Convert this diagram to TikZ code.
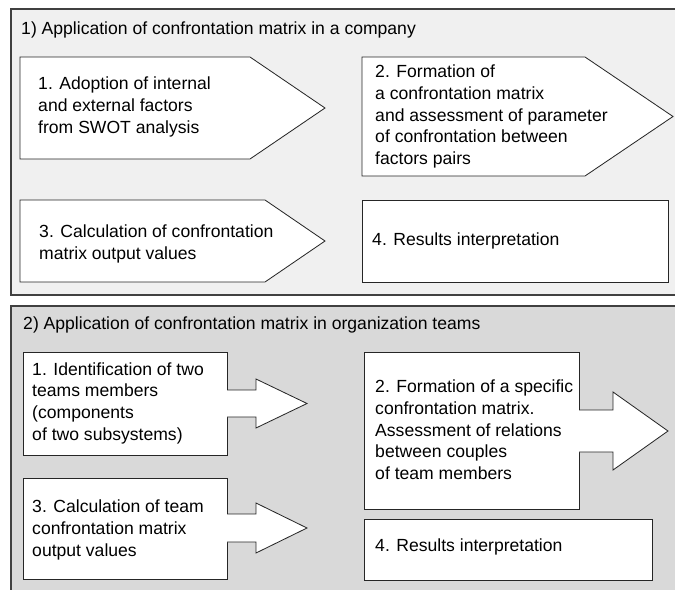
\documentclass[tikz,border=0pt]{standalone}
\usepackage{fontspec}
\setmainfont{Liberation Sans}
\begin{document}
\begin{tikzpicture}[x=0.03cm, y=-0.03cm,
  panel/.style={draw=black!75, line width=1.1pt},
  stepbox/.style={draw=black!85, fill=white, line width=0.7pt},
  txt/.style={anchor=west, align=left, inner sep=0pt, font=\fontsize{15}{18.5}\selectfont}]
  \useasboundingbox (0,0) rectangle (675,589);
  \clip (0,0) rectangle (675,589);
  % panel 1
  \draw[panel, fill=black!6] (11,9) rectangle (690,295);
  \node[txt] (title1) at (21,30) {1) Application of confrontation matrix in a company};
  \draw[stepbox] (20,57) -- (250,57) -- (325,108) -- (250,159) -- (20,159) -- cycle;
  \draw[stepbox] (362,57) -- (585,57) -- (673,116.5) -- (585,176) -- (362,176) -- cycle;
  \draw[stepbox] (20,200) -- (265,200) -- (325,241) -- (265,282) -- (20,282) -- cycle;
  \draw[stepbox] (362,200) rectangle (668,282);
  \node[txt] (a1) at (38,107) {1. Adoption of internal\\and external factors\\from SWOT analysis};
  \node[txt] (a2) at (375,116.5) {2. Formation of\\a confrontation matrix\\and assessment of parameter\\of confrontation between\\factors pairs};
  \node[txt] (a3) at (39,244) {3. Calculation of confrontation\\matrix output values};
  \node[txt] (a4) at (372,241) {4. Results interpretation};
  % panel 2
  \draw[panel, fill=black!15] (11,306) rectangle (690,600);
  \node[txt] (title2) at (23,325) {2) Application of confrontation matrix in organization teams};
  \draw[stepbox] (23,352) rectangle (227,455);
  \draw[stepbox] (227,390) -- (256,390) -- (256,379) -- (307,403.5) -- (256,428) -- (256,417) -- (227,417);
  \draw[stepbox] (23,478) rectangle (227,579);
  \draw[stepbox] (227,514) -- (256,514) -- (256,503) -- (307,528) -- (256,553) -- (256,542) -- (227,542);
  \draw[stepbox] (364,352) rectangle (579,509);
  \draw[stepbox] (579,410) -- (613,410) -- (613,392) -- (668,431) -- (613,470) -- (613,452) -- (579,452);
  \draw[stepbox] (364,519) rectangle (652,580);
  \node[txt] (b1) at (32,403) {1. Identification of two\\teams members\\(components\\of two subsystems)};
  \node[txt] (b2) at (375,430) {2. Formation of a specific\\confrontation matrix.\\Assessment of relations\\between couples\\of team members};
  \node[txt] (b3) at (32,530) {3. Calculation of team\\confrontation matrix\\output values};
  \node[txt] (b4) at (375,547) {4. Results interpretation};
\end{tikzpicture}
\end{document}
